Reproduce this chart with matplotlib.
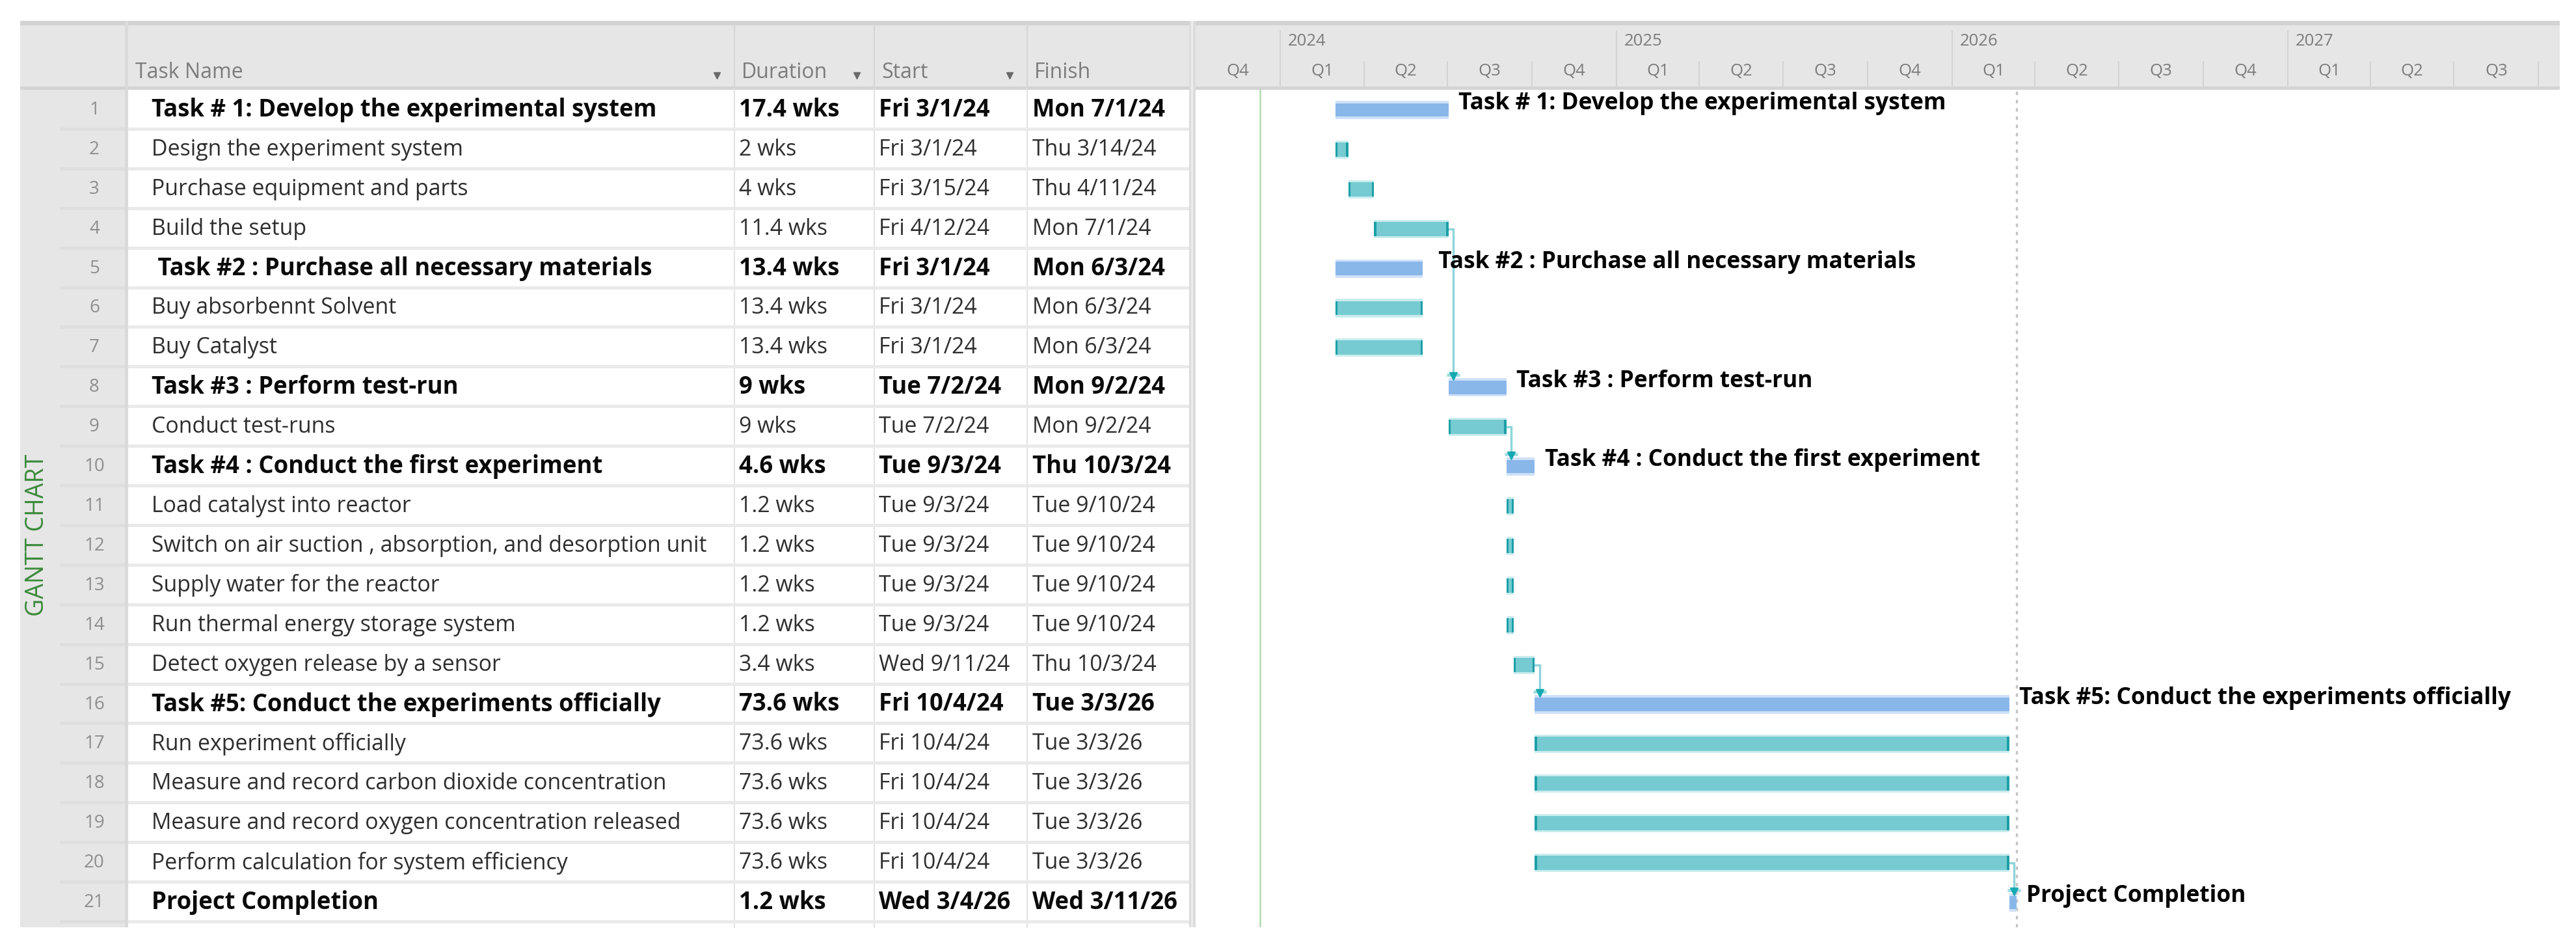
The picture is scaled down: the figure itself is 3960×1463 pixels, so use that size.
import matplotlib
matplotlib.use("Agg")
import matplotlib.pyplot as plt
import matplotlib.dates as mdates
from matplotlib.transforms import blended_transform_factory, ScaledTranslation
from matplotlib.patches import Rectangle
import pandas as pd

# ---------------- data ----------------
row_ids = list(range(1, 22))
task_names = [
    "Task # 1: Develop the experimental system",
    "Design the experiment system",
    "Purchase equipment and parts",
    "Build the setup",
    " Task #2 : Purchase all necessary materials",
    "Buy absorbennt Solvent",
    "Buy Catalyst",
    "Task #3 : Perform test-run",
    "Conduct test-runs",
    "Task #4 : Conduct the first experiment",
    "Load catalyst into reactor",
    "Switch on air suction , absorption, and desorption unit",
    "Supply water for the reactor",
    "Run thermal energy storage system",
    "Detect oxygen release by a sensor",
    "Task #5: Conduct the experiments officially",
    "Run experiment officially",
    "Measure and record carbon dioxide concentration",
    "Measure and record oxygen concentration released",
    "Perform calculation for system efficiency",
    "Project Completion",
]
durations = ["17.4 wks", "2 wks", "4 wks", "11.4 wks", "13.4 wks", "13.4 wks", "13.4 wks",
             "9 wks", "9 wks", "4.6 wks", "1.2 wks", "1.2 wks", "1.2 wks", "1.2 wks",
             "3.4 wks", "73.6 wks", "73.6 wks", "73.6 wks", "73.6 wks", "73.6 wks", "1.2 wks"]
starts = ["Fri 3/1/24", "Fri 3/1/24", "Fri 3/15/24", "Fri 4/12/24", "Fri 3/1/24", "Fri 3/1/24",
          "Fri 3/1/24", "Tue 7/2/24", "Tue 7/2/24", "Tue 9/3/24", "Tue 9/3/24", "Tue 9/3/24",
          "Tue 9/3/24", "Tue 9/3/24", "Wed 9/11/24", "Fri 10/4/24", "Fri 10/4/24", "Fri 10/4/24",
          "Fri 10/4/24", "Fri 10/4/24", "Wed 3/4/26"]
finishes = ["Mon 7/1/24", "Thu 3/14/24", "Thu 4/11/24", "Mon 7/1/24", "Mon 6/3/24", "Mon 6/3/24",
            "Mon 6/3/24", "Mon 9/2/24", "Mon 9/2/24", "Thu 10/3/24", "Tue 9/10/24", "Tue 9/10/24",
            "Tue 9/10/24", "Tue 9/10/24", "Thu 10/3/24", "Tue 3/3/26", "Tue 3/3/26", "Tue 3/3/26",
            "Tue 3/3/26", "Tue 3/3/26", "Wed 3/11/26"]
summary_rows = [1, 5, 8, 10, 16, 21]
links = [(4, 8), (9, 10), (15, 16), (20, 21)]
status_date = "2023-12-10"
column_headers = ["Task Name", "Duration", "Start", "Finish"]
side_label = "GANTT CHART"
timeline_start = "2023-10-01"
timeline_end = "2027-10-24"

# ---------------- layout / style ----------------
plt.rcParams['font.family'] = ['Open Sans', 'DejaVu Sans']
W, H, DPI = 3960, 1463, 100
PANEL_L, NUMCOL_L, NAME_L = 31, 92, 197
COL_L = [NAME_L, 1129, 1344, 1579]
TABLE_R, GANTT_L, GANTT_R = 1828, 1838, 3935
HDR_TOP, HDR_BOT, BODY_BOT = 32, 137, 1425
ROW1_Y, PITCH = 169, 60.9

C_HDR = "#e6e6e6"
C_HDR_LINE = "#d3d3d3"
C_SEP = "#eaeaea"
C_COL = "#e3e3e3"
C_HDR_TXT = "#7c7c7c"
C_NUM = "#8e8e8e"
C_TXT = "#2e2e2e"
C_BOLD = "#0a0a0a"
C_SUM, C_SUM_HALO = "#8ab7ea", "#cfe1f8"
C_TEAL, C_TEAL_HALO, C_TEAL_CAP = "#75cbd1", "#c9ecee", "#1d9fa7"
C_LINK, C_ARROW = "#8dd5da", "#16a9b2"

FS_BODY = 24.4
FS_BOLD = 26.3
FS_HDR = 23.0
FS_GLABEL = 25.4
FS_TIME = 18.5

def row_y(r):
    return ROW1_Y + (r - 1) * PITCH

fig = plt.figure(figsize=(W / DPI, H / DPI), dpi=DPI)
fig.patch.set_facecolor("white")

ax = fig.add_axes([0, 0, 1, 1])
ax.set_xlim(0, W)
ax.set_ylim(H, 0)
ax.axis("off")
ax.set_zorder(0)

def rect(x0, y0, x1, y1, color, z=1):
    ax.add_patch(Rectangle((x0, y0), x1 - x0, y1 - y0, facecolor=color, edgecolor="none", zorder=z))

# header band
rect(PANEL_L, HDR_TOP, GANTT_R, HDR_BOT, C_HDR)
rect(PANEL_L, HDR_TOP, GANTT_R, HDR_TOP + 7, C_HDR_LINE, 2)
rect(PANEL_L, HDR_BOT - 4, GANTT_R, HDR_BOT + 1, C_HDR_LINE, 2)
# left panel
rect(PANEL_L, HDR_BOT, NAME_L, BODY_BOT, C_HDR)
rect(NAME_L - 5, HDR_TOP, NAME_L, BODY_BOT, "#dadada", 2)
# splitter
rect(TABLE_R, HDR_TOP, GANTT_L, BODY_BOT, "#dcdcdc", 3)
rect(TABLE_R + 3, HDR_TOP, GANTT_L - 4, BODY_BOT, "#ececec", 3)

# column lines
for cx in COL_L[1:]:
    ax.plot([cx, cx], [HDR_TOP + 7, HDR_BOT - 4], color="#d6d6d6", lw=1.5, zorder=2)
    ax.plot([cx, cx], [HDR_BOT, BODY_BOT], color=C_COL, lw=1.5, zorder=2)

# row separators
n_rows = len(row_ids)
for k in range(n_rows + 1):
    ys = row_y(k + 1) - PITCH / 2 - 1
    if ys < HDR_BOT + 2:
        continue
    ax.add_patch(Rectangle((NUMCOL_L, ys - 2.5), NAME_L - 5 - NUMCOL_L, 5,
                           facecolor="#dedede", edgecolor="none", zorder=2))
    ax.add_patch(Rectangle((NAME_L, ys - 2.5), TABLE_R - NAME_L, 5,
                           facecolor=C_SEP, edgecolor="none", zorder=2))

# header texts
hdr_y = 112
for name, cx in zip(column_headers, COL_L):
    ax.text(cx + 11, hdr_y, name, fontsize=FS_HDR, color=C_HDR_TXT, ha="left", va="center", zorder=4)
for cx in COL_L[1:]:
    ax.plot(cx - 27, hdr_y + 4, marker="v", ms=6.5, color="#6a6a6a", zorder=4)

# side label
ax.text(57, 822, side_label, rotation=90, fontsize=27, color="#3a8a3a",
        ha="center", va="center", zorder=4)

# table rows
text_x = [NAME_L + 36, COL_L[1] + 7, COL_L[2] + 7, COL_L[3] + 8]
for r, name, dur, st, fi in zip(row_ids, task_names, durations, starts, finishes):
    y = row_y(r)
    bold = r in summary_rows
    ax.text(145, y, str(r), fontsize=20, color=C_NUM, ha="center", va="center", zorder=4)
    for tx, val in zip(text_x, [name, dur, st, fi]):
        ax.text(tx, y, val, fontsize=FS_BOLD if bold else FS_BODY, color=C_BOLD if bold else C_TXT,
                fontweight="bold" if bold else "normal", ha="left", va="center", zorder=4)

# ---------------- gantt ----------------
gx = fig.add_axes([GANTT_L / W, 1 - BODY_BOT / H, (GANTT_R - GANTT_L) / W, (BODY_BOT - HDR_BOT) / H])
gx.set_zorder(2)
gx.patch.set_alpha(0)
gx.axis("off")
t0 = mdates.date2num(pd.Timestamp(timeline_start))
t1 = mdates.date2num(pd.Timestamp(timeline_end))
gx.set_xlim(t0, t1)
gx.set_ylim(1 + (BODY_BOT - ROW1_Y) / PITCH, 1 + (HDR_BOT - ROW1_Y) / PITCH)

# timescale header (x from date axis, y in pixel layout)
hdr_tr = blended_transform_factory(gx.transData, ax.transData)
quarters = pd.date_range(timeline_start, timeline_end, freq="QS")
for q in quarters:
    qn = mdates.date2num(q)
    nxt = mdates.date2num(q + pd.DateOffset(months=3))
    if qn > t0:
        top = 48 if q.month == 1 else 95
        ax.plot([qn, qn], [top, HDR_BOT - 4], color="#d3d3d3", lw=1.5, transform=hdr_tr, zorder=3)
    mid = (qn + nxt) / 2
    if mid < t1 - 10:
        ax.text(mid, 110, f"Q{(q.month - 1) // 3 + 1}", fontsize=FS_TIME, color=C_HDR_TXT,
                ha="center", va="center", transform=hdr_tr, zorder=4)
    if q.month == 1:
        ax.text(qn, 64, str(q.year), fontsize=FS_TIME, color=C_HDR_TXT, ha="left", va="center",
                transform=hdr_tr + ScaledTranslation(12 / DPI, 0, fig.dpi_scale_trans), zorder=4)

# status line and project finish line
gx.axvline(mdates.date2num(pd.Timestamp(status_date)), color="#b4dbaf", lw=1.8, zorder=1)

def parse(s):
    return pd.to_datetime(s.split()[1], format="%m/%d/%y")

bar_start = [mdates.date2num(parse(s)) for s in starts]
bar_end = [mdates.date2num(parse(f) + pd.Timedelta(days=1)) for f in finishes]
gx.axvline(max(bar_end), color="#c4c4c4", lw=2.4, ls=(0, (1.6, 2.2)), zorder=1)

HALO_H, CORE_H = 0.46, 0.34
cap = 2.4
for r, s, e, name in zip(row_ids, bar_start, bar_end, task_names):
    if r in summary_rows:
        gx.barh(r, e - s, left=s, height=HALO_H, color=C_SUM_HALO, zorder=3)
        gx.barh(r, e - s, left=s, height=CORE_H, color=C_SUM, zorder=4)
        gx.annotate(name, xy=(e, r), xytext=(11, 7), textcoords="offset points",
                    fontsize=FS_GLABEL, fontweight="bold", color="black",
                    ha="left", va="center", zorder=6)
    else:
        gx.barh(r, e - s, left=s, height=HALO_H, color=C_TEAL_HALO, zorder=3)
        gx.barh(r, e - s, left=s, height=CORE_H + 0.02, color=C_TEAL, zorder=4)
        gx.barh(r, cap, left=s, height=CORE_H + 0.02, color=C_TEAL_CAP, zorder=5)
        gx.barh(r, cap, left=e - cap, height=CORE_H + 0.02, color=C_TEAL_CAP, zorder=5)

# dependency links
for a, b in links:
    xa = bar_end[a - 1]
    xv = xa + 5.5
    ya = a
    yb = b - HALO_H / 2 - 0.06
    gx.plot([xa, xv, xv], [ya, ya, yb], color=C_LINK, lw=2.4, zorder=2,
            solid_joinstyle="miter")
    gx.plot(xv, yb - 0.03, marker="_", ms=14, mew=3.5, color="#9fdde1", zorder=6)
    gx.plot(xv, yb + 0.01, marker="v", ms=8, color=C_ARROW, zorder=7)

fig.savefig("out.png", dpi=DPI, facecolor="white")
